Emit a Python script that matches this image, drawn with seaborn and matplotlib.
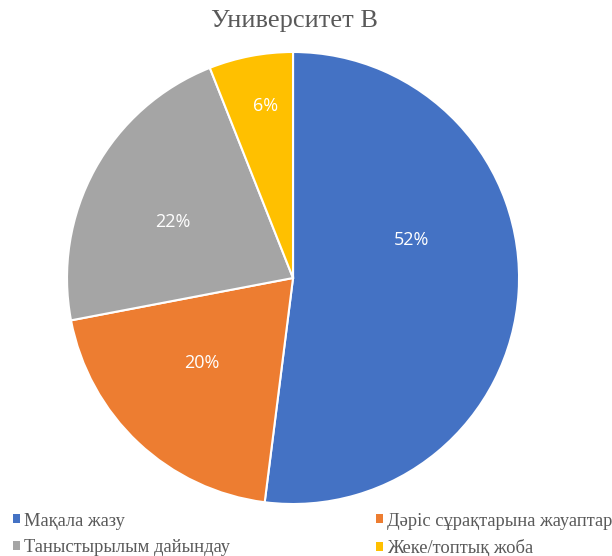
import matplotlib
matplotlib.use("Agg")
import matplotlib.pyplot as plt
from matplotlib.patches import Patch
import numpy as np
import seaborn as sns

# data
categories = ["Мақала жазу", "Дәріс сұрақтарына жауаптар",
              "Таныстырылым дайындау", "Жеке/топтық жоба"]
shares = [52, 20, 22, 6]
colors = ["#4472C4", "#ED7D31", "#A5A5A5", "#FFC000"]
title = "Университет В"

# label placement (polar, relative to pie centre) - mimics Excel best fit
label_angle = [18, -137, 155, 99.2]
label_radius = [0.55, 0.55, 0.585, 0.77]

sns.set_theme(style="white")
plt.rcParams["font.family"] = ["Liberation Serif", "DejaVu Serif"]

fig = plt.figure(figsize=(6.12, 5.56), dpi=100)
ax = fig.add_axes([0.1095, 0.0935, 0.7386, 0.813])

wedges, _ = ax.pie(shares, colors=colors, startangle=90, counterclock=False,
                   radius=1.0,
                   wedgeprops=dict(edgecolor="white", linewidth=1.5))
ax.set_xlim(-1, 1)
ax.set_ylim(-1, 1)
ax.set_aspect("auto")

for val, ang, rad in zip(shares, label_angle, label_radius):
    t = np.deg2rad(ang)
    ax.text(rad * np.cos(t), rad * np.sin(t), f"{val}%", ha="center",
            va="center", color="white", fontsize=13,
            family=["Open Sans", "DejaVu Sans"])

fig.text(0.481, 0.962, title, ha="center", va="center", fontsize=19,
         color="#595959")

# legend: column-major fill, so reorder to get the reference layout
order = [0, 2, 1, 3]
handles = [Patch(facecolor=colors[i], edgecolor="none") for i in order]
labels = [categories[i] for i in order]
fig.legend(handles, labels, loc="lower left", bbox_to_anchor=(0.0065, -0.018),
           ncol=2, frameon=False, fontsize=13.3, labelcolor="#595959",
           borderpad=0, handlelength=0.38, handleheight=0.38,
           handletextpad=0.22, columnspacing=7.9, labelspacing=0.5)

fig.savefig("out.png", dpi=100)
